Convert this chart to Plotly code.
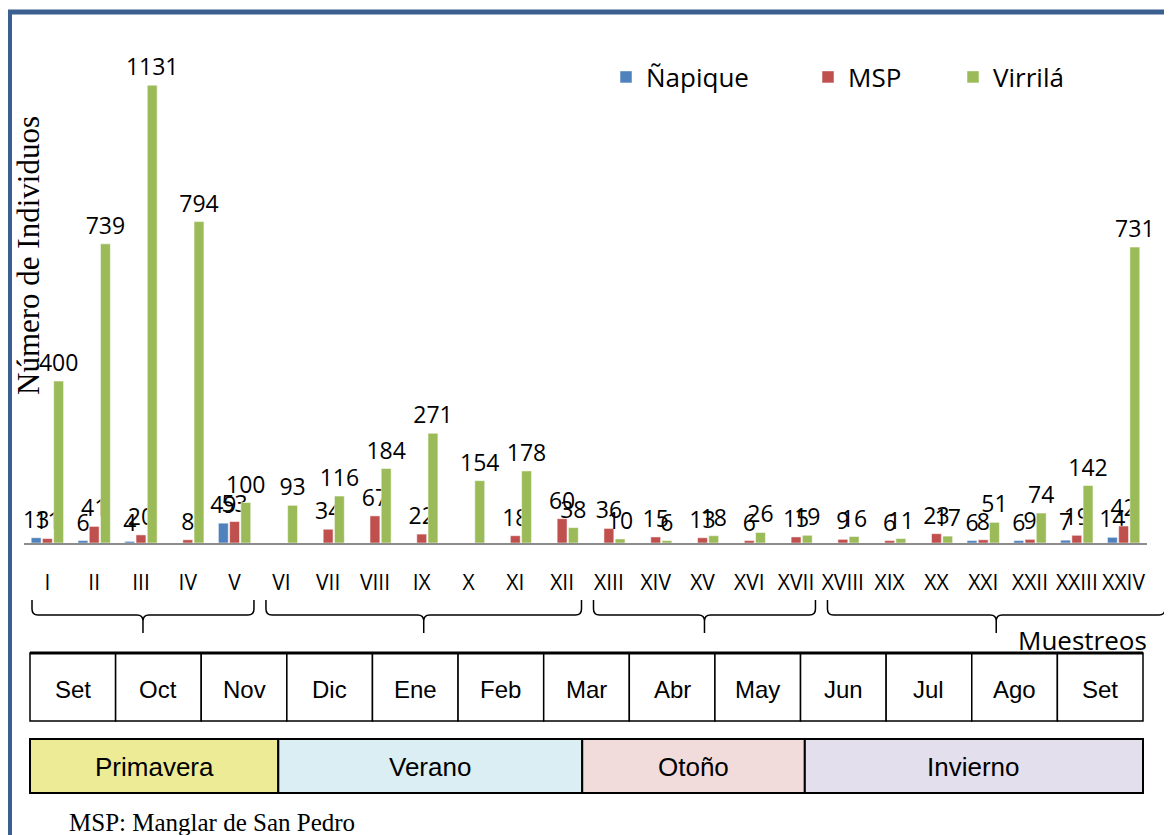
import plotly.graph_objects as go

# Muestreos (samples) and counts per site
samples = ['I', 'II', 'III', 'IV', 'V', 'VI', 'VII', 'VIII', 'IX', 'X', 'XI', 'XII',
           'XIII', 'XIV', 'XV', 'XVI', 'XVII', 'XVIII', 'XIX', 'XX', 'XXI', 'XXII', 'XXIII', 'XXIV']
napique = [13, 6, 4, 0, 49, 0, 0, 0, 0, 0, 0, 0,
           0, 0, 0, 0, 0, 0, 0, 0, 6, 6, 7, 14]
msp = [11, 41, 20, 8, 53, 0, 34, 67, 22, 0, 18, 60,
       36, 15, 13, 6, 15, 9, 6, 23, 8, 9, 19, 42]
virrila = [400, 739, 1131, 794, 100, 93, 116, 184, 271, 154, 178, 38,
           10, 6, 18, 26, 19, 16, 11, 17, 51, 74, 142, 731]

months = ['Set', 'Oct', 'Nov', 'Dic', 'Ene', 'Feb', 'Mar', 'Abr', 'May', 'Jun', 'Jul', 'Ago', 'Set']
seasons = ['Primavera', 'Verano', 'Otoño', 'Invierno']
samples_per_season = [5, 7, 5, 7]

# layout constants (screen pixels; the page body adds an 8px offset)
FW, FH = 1172, 835
OFF = 8
PLOT_X0, PLOT_X1 = 24, 1147
PLOT_Y0, AXIS_Y = 37, 543
L, T = PLOT_X0 - OFF, PLOT_Y0 - OFF
R, B = FW - (PLOT_X1 - OFF), FH - (AXIS_Y - OFF)
PW, PH = PLOT_X1 - PLOT_X0, AXIS_Y - PLOT_Y0
SEASON_EDGES = [0, 2.9, 6.45, 9.05, 13]   # in month units
SEASON_COLORS = ['#EDEB95', '#DAEEF3', '#F2DCDB', '#E4DFEC']
TABLE_X0, TABLE_X1 = 30, 1143


def px_x(p):
    return (p - PLOT_X0) / PW


def px_y(p):
    return (AXIS_Y - p) / PH


def cat_px(i):
    return PLOT_X0 + (i + 0.5) / len(samples) * PW


def labels(vals):
    return [str(v) if v else '' for v in vals]


def note(x, y, text, font, **kw):
    d = dict(x=px_x(x), y=px_y(y), xref='paper', yref='paper', text=text,
             showarrow=False, xanchor='center', yanchor='middle', font=font)
    d.update(kw)
    return d


LABEL_FONT = dict(family='Open Sans', size=23, color='black')
NARROW = 'Liberation Sans Narrow, Liberation Sans'

fig = go.Figure()
series = [('Ñapique', napique, '#4F81BD', 'legend'),
          ('MSP', msp, '#C0504D', 'legend2'),
          ('Virrilá', virrila, '#9BBB59', 'legend3')]
for name, vals, color, leg in series:
    fig.add_trace(go.Bar(
        x=samples, y=vals, name=name, legend=leg,
        marker=dict(color=color, line=dict(color='rgba(255,255,255,0.5)', width=1)),
        text=labels(vals), textposition='outside', textfont=LABEL_FONT,
        constraintext='none', cliponaxis=False,
    ))

shapes = []
annotations = []

# outer frame
shapes.append(dict(type='rect', xref='paper', yref='paper',
                   x0=px_x(9.5), x1=px_x(1200), y0=px_y(12), y1=px_y(900),
                   line=dict(color='#3B5F8E', width=5), fillcolor='rgba(0,0,0,0)', layer='above'))

# brackets grouping the samples by season
start = 0
half = PW / len(samples) / 2
for n in samples_per_season:
    end = start + n - 1
    x0 = cat_px(start) - half + 8
    x1 = cat_px(end) + half - 4
    if end == len(samples) - 1:
        x1 = cat_px(end) + half + 18
    xc = (x0 + x1) / 2
    yt, yh, yb, r = 600, 615, 633, 6
    pts = (f'M {px_x(x0)},{px_y(yt)} L {px_x(x0)},{px_y(yh - r)} '
           f'Q {px_x(x0)},{px_y(yh)} {px_x(x0 + r)},{px_y(yh)} '
           f'L {px_x(xc - r)},{px_y(yh)} Q {px_x(xc)},{px_y(yh)} {px_x(xc)},{px_y(yh + r)} '
           f'L {px_x(xc)},{px_y(yb)} L {px_x(xc)},{px_y(yh + r)} '
           f'Q {px_x(xc)},{px_y(yh)} {px_x(xc + r)},{px_y(yh)} '
           f'L {px_x(x1 - r)},{px_y(yh)} Q {px_x(x1)},{px_y(yh)} {px_x(x1)},{px_y(yh - r)} '
           f'L {px_x(x1)},{px_y(yt)}')
    shapes.append(dict(type='path', xref='paper', yref='paper', path=pts,
                       line=dict(color='black', width=1.5)))
    start += n

# month table
cell = (TABLE_X1 - TABLE_X0) / len(months)
for i, m in enumerate(months):
    cx0 = TABLE_X0 + i * cell
    shapes.append(dict(type='rect', xref='paper', yref='paper',
                       x0=px_x(cx0), x1=px_x(cx0 + cell), y0=px_y(721), y1=px_y(653),
                       line=dict(color='black', width=1.5), fillcolor='white'))
    annotations.append(note(cx0 + cell / 2, 689, m,
                            dict(family=NARROW, size=24, color='black')))
shapes.append(dict(type='line', xref='paper', yref='paper',
                   x0=px_x(TABLE_X0), x1=px_x(TABLE_X1), y0=px_y(653), y1=px_y(653),
                   line=dict(color='black', width=3)))

# season band
for i, s in enumerate(seasons):
    sx0 = TABLE_X0 + SEASON_EDGES[i] * cell
    sx1 = TABLE_X0 + SEASON_EDGES[i + 1] * cell
    shapes.append(dict(type='rect', xref='paper', yref='paper',
                       x0=px_x(sx0), x1=px_x(sx1), y0=px_y(793), y1=px_y(739),
                       line=dict(color='black', width=2), fillcolor=SEASON_COLORS[i]))
    annotations.append(note((sx0 + sx1) / 2, 767, s,
                            dict(family=NARROW, size=26, color='black')))

annotations += [
    note(28, 256, 'Número de Individuos',
         dict(family='Liberation Serif', size=31, color='black'), textangle=-90),
    note(1149, 640, 'Muestreos',
         dict(family='Open Sans', size=26, color='black'), xanchor='right'),
    note(67, 822, 'MSP: Manglar de San Pedro',
         dict(family='Liberation Serif', size=25, color='black'), xanchor='left'),
]

leg_font = dict(family='Open Sans', size=26, color='black')
leg_common = dict(xanchor='left', yanchor='middle', y=px_y(77), bgcolor='rgba(0,0,0,0)',
                  font=leg_font, borderwidth=0)

fig.update_layout(
    width=FW, height=FH,
    margin=dict(l=L, r=R, t=T, b=B),
    paper_bgcolor='white', plot_bgcolor='white',
    barmode='group', bargap=0.28, bargroupgap=0.12,
    showlegend=True,
    legend=dict(x=px_x(606), **leg_common),
    legend2=dict(x=px_x(808), **leg_common),
    legend3=dict(x=px_x(953), **leg_common),
    xaxis=dict(type='category', range=[-0.5, len(samples) - 0.5],
               showline=True, linecolor='#8C8C8C', linewidth=2,
               ticks='', showgrid=False, ticklabelstandoff=20,
               tickfont=dict(family='Open Sans', size=21, color='black')),
    yaxis=dict(range=[0, 1250], visible=False, showgrid=False),
    shapes=shapes,
    annotations=annotations,
)

fig.write_html('out.html')
